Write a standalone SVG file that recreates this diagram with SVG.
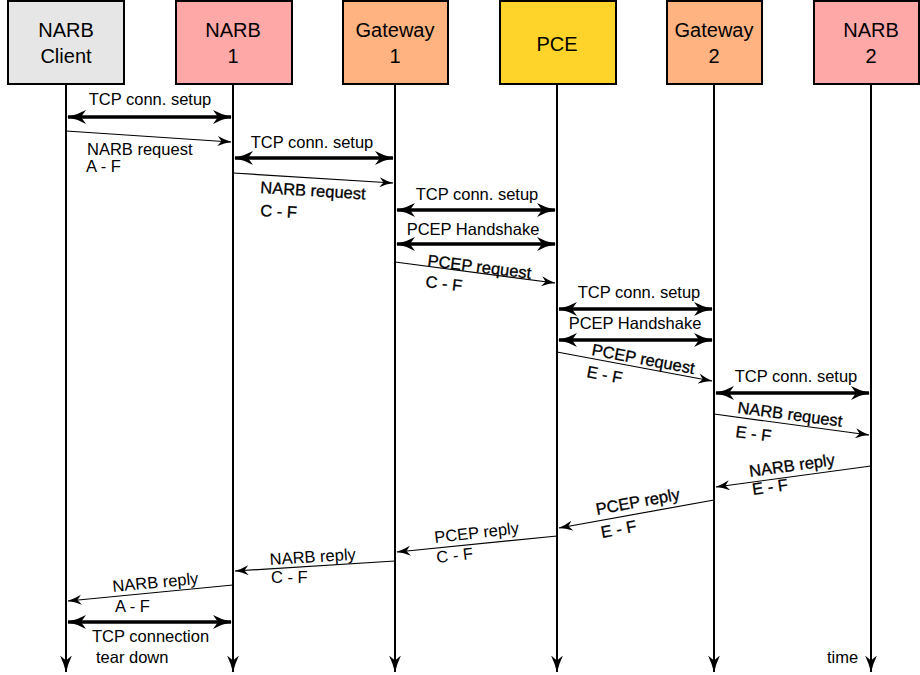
<svg xmlns="http://www.w3.org/2000/svg" width="920" height="675" viewBox="0 0 920 675">
<style>
.box{stroke:#000;stroke-width:2}
.hd{font-family:"Liberation Sans",Arial,sans-serif;font-size:20px;text-anchor:middle;fill:#000}
.lb{font-family:"Liberation Sans",Arial,sans-serif;font-size:16.5px;fill:#000}
.c{text-anchor:middle}
.r{stroke:#000;stroke-width:0.3}
.life{stroke:#000;stroke-width:2;fill:none}
.thick{stroke:#000;stroke-width:3.5;fill:none}
.thin{stroke:#000;stroke-width:1.2;fill:none}
</style>
<defs>
<marker id="hThick" markerUnits="userSpaceOnUse" viewBox="0 0 19 14" markerWidth="19" markerHeight="14" refX="18" refY="7" orient="auto-start-reverse">
<path d="M0,0 Q9,5 19,7 Q9,9 0,14 L5,7 Z" fill="#000"/>
</marker>
<marker id="hThin" markerUnits="userSpaceOnUse" viewBox="0 0 14 10" markerWidth="14" markerHeight="10" refX="13.5" refY="5" orient="auto">
<path d="M0,0 Q7,3.5 14,5 Q7,6.5 0,10 L4,5 Z" fill="#000"/>
</marker>
<marker id="hLife" markerUnits="userSpaceOnUse" viewBox="0 0 17 12" markerWidth="17" markerHeight="12" refX="16.5" refY="6" orient="auto">
<path d="M0,0 Q8,4 17,6 Q8,8 0,12 L5,6 Z" fill="#000"/>
</marker>
</defs>

<g id="node-narb-client">
<rect class="box" x="8" y="1" width="116" height="83" fill="#e6e6e6"/>
<text class="hd" x="66" y="37">NARB</text>
<text class="hd" x="66" y="63">Client</text>
</g>
<g id="node-narb1">
<rect class="box" x="176" y="1" width="116" height="83" fill="#ffa8a8"/>
<text class="hd" x="233" y="37">NARB</text>
<text class="hd" x="233" y="63">1</text>
</g>
<g id="node-gateway1">
<rect class="box" x="343" y="1" width="105" height="83" fill="#ffb380"/>
<text class="hd" x="395" y="37">Gateway</text>
<text class="hd" x="395" y="63">1</text>
</g>
<g id="node-pce">
<rect class="box" x="500" y="1" width="116" height="83" fill="#ffd42a"/>
<text class="hd" x="557" y="51">PCE</text>
</g>
<g id="node-gateway2">
<rect class="box" x="667" y="1" width="95" height="83" fill="#ffb380"/>
<text class="hd" x="714" y="37">Gateway</text>
<text class="hd" x="714" y="63">2</text>
</g>
<g id="node-narb2">
<rect class="box" x="814" y="1" width="105" height="83" fill="#ffa8a8"/>
<text class="hd" x="871" y="37">NARB</text>
<text class="hd" x="871" y="63">2</text>
</g>

<g id="lifelines">
<line class="life" x1="66" y1="85" x2="66" y2="672" marker-end="url(#hLife)"/>
<line class="life" x1="233" y1="85" x2="233" y2="672" marker-end="url(#hLife)"/>
<line class="life" x1="395" y1="85" x2="395" y2="672" marker-end="url(#hLife)"/>
<line class="life" x1="557" y1="85" x2="557" y2="672" marker-end="url(#hLife)"/>
<line class="life" x1="714" y1="85" x2="714" y2="672" marker-end="url(#hLife)"/>
<line class="life" x1="871" y1="85" x2="871" y2="672" marker-end="url(#hLife)"/>
</g>

<g id="connectors">
<line class="thick" x1="68" y1="117" x2="231" y2="117" marker-start="url(#hThick)" marker-end="url(#hThick)"/>
<line class="thin" x1="66" y1="131" x2="231" y2="142" marker-end="url(#hThin)"/>
<line class="thick" x1="235" y1="158" x2="393" y2="158" marker-start="url(#hThick)" marker-end="url(#hThick)"/>
<line class="thin" x1="233" y1="173" x2="393" y2="183" marker-end="url(#hThin)"/>
<line class="thick" x1="397" y1="210" x2="555" y2="210" marker-start="url(#hThick)" marker-end="url(#hThick)"/>
<line class="thick" x1="397" y1="244" x2="555" y2="244" marker-start="url(#hThick)" marker-end="url(#hThick)"/>
<line class="thin" x1="395" y1="262" x2="555" y2="283" marker-end="url(#hThin)"/>
<line class="thick" x1="559" y1="309" x2="712" y2="309" marker-start="url(#hThick)" marker-end="url(#hThick)"/>
<line class="thick" x1="559" y1="340" x2="712" y2="340" marker-start="url(#hThick)" marker-end="url(#hThick)"/>
<line class="thin" x1="557" y1="352" x2="712" y2="381" marker-end="url(#hThin)"/>
<line class="thick" x1="716" y1="393" x2="869" y2="393" marker-start="url(#hThick)" marker-end="url(#hThick)"/>
<line class="thin" x1="714" y1="414" x2="869" y2="435" marker-end="url(#hThin)"/>
<line class="thin" x1="871" y1="466" x2="716" y2="487" marker-end="url(#hThin)"/>
<line class="thin" x1="714" y1="500" x2="559" y2="528" marker-end="url(#hThin)"/>
<line class="thin" x1="557" y1="536" x2="397" y2="552" marker-end="url(#hThin)"/>
<line class="thin" x1="395" y1="561" x2="235" y2="571" marker-end="url(#hThin)"/>
<line class="thin" x1="233" y1="585" x2="68" y2="601" marker-end="url(#hThin)"/>
<line class="thick" x1="68" y1="622" x2="231" y2="622" marker-start="url(#hThick)" marker-end="url(#hThick)"/>
</g>

<g id="labels">
<text class="lb c" x="150" y="105">TCP conn. setup</text>
<text class="lb" x="87" y="155">NARB request</text>
<text class="lb" x="86" y="172">A - F</text>
<text class="lb c" x="312" y="148">TCP conn. setup</text>
<text class="lb r" x="260" y="193" transform="rotate(3.5 260 193)">NARB request</text>
<text class="lb r" x="260" y="216" transform="rotate(3.5 260 216)">C - F</text>
<text class="lb c" x="477" y="200">TCP conn. setup</text>
<text class="lb c" x="473" y="235">PCEP Handshake</text>
<text class="lb r" x="427" y="266" transform="rotate(7 427 266)">PCEP request</text>
<text class="lb r" x="425" y="287" transform="rotate(7 425 287)">C - F</text>
<text class="lb c" x="639" y="298">TCP conn. setup</text>
<text class="lb c" x="635" y="329">PCEP Handshake</text>
<text class="lb r" x="591" y="355" transform="rotate(10.5 591 355)">PCEP request</text>
<text class="lb r" x="586" y="377" transform="rotate(10.5 586 377)">E - F</text>
<text class="lb c" x="796" y="382">TCP conn. setup</text>
<text class="lb r" x="737" y="413" transform="rotate(7.5 737 413)">NARB request</text>
<text class="lb r" x="735" y="437" transform="rotate(7.5 735 437)">E - F</text>
<text class="lb r" x="750" y="477" transform="rotate(-8 750 477)">NARB reply</text>
<text class="lb r" x="753" y="495" transform="rotate(-8 753 495)">E - F</text>
<text class="lb r" x="597" y="515" transform="rotate(-10.5 597 515)">PCEP reply</text>
<text class="lb r" x="602" y="538" transform="rotate(-10.5 602 538)">E - F</text>
<text class="lb" x="435" y="543" transform="rotate(-6.5 435 543)">PCEP reply</text>
<text class="lb" x="437" y="563" transform="rotate(-6.5 437 563)">C - F</text>
<text class="lb" x="270" y="565" transform="rotate(-3.5 270 565)">NARB reply</text>
<text class="lb" x="271" y="583">C - F</text>
<text class="lb" x="113" y="592" transform="rotate(-5.5 113 592)">NARB reply</text>
<text class="lb" x="115" y="612">A - F</text>
<text class="lb" x="92" y="642">TCP connection</text>
<text class="lb" x="96" y="663">tear down</text>
<text class="lb" x="827" y="663">time</text>
</g>
</svg>
